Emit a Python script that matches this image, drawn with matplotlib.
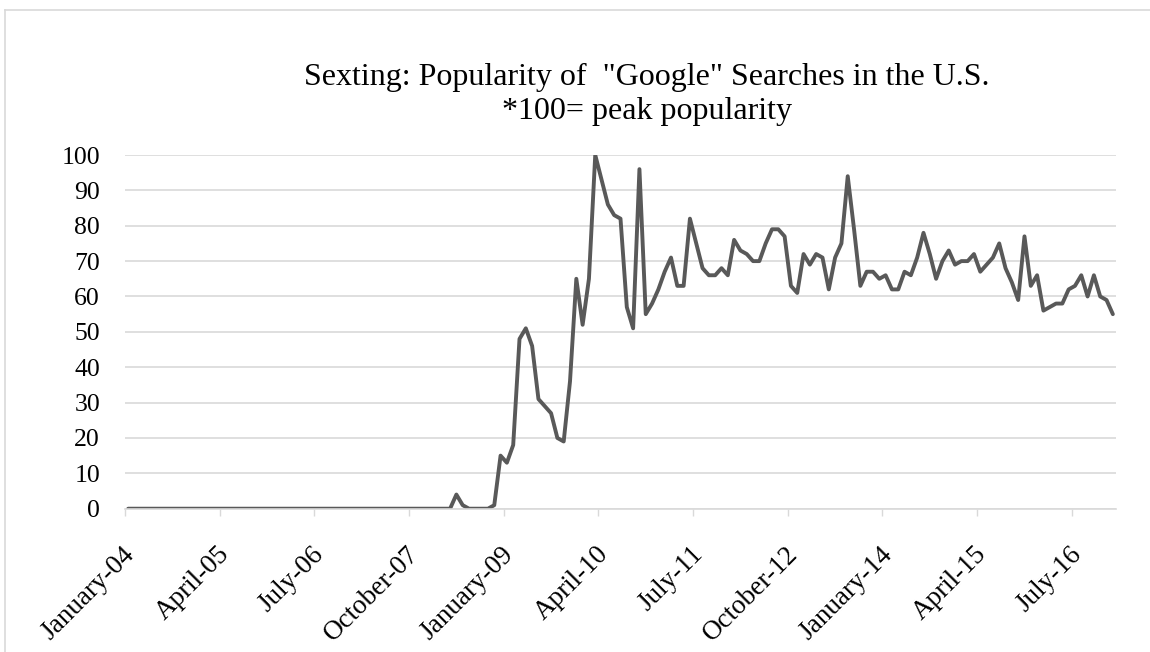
import matplotlib.pyplot as plt
from matplotlib.lines import Line2D
from matplotlib.transforms import ScaledTranslation

# monthly search popularity, Jan 2004 - Jan 2017
popularity = [
    0, 0, 0, 0, 0, 0, 0, 0, 0, 0, 0, 0,
    0, 0, 0, 0, 0, 0, 0, 0, 0, 0, 0, 0,
    0, 0, 0, 0, 0, 0, 0, 0, 0, 0, 0, 0,
    0, 0, 0, 0, 0, 0, 0, 0, 0, 0, 0, 0,
    0, 0, 0, 0, 4, 1, 0, 0, 0, 0, 1, 15,
    13, 18, 48, 51, 46, 31, 29, 27, 20, 19, 36, 65,
    52, 65, 100, 93, 86, 83, 82, 57, 51, 96, 55, 58,
    62, 67, 71, 63, 63, 82, 75, 68, 66, 66, 68, 66,
    76, 73, 72, 70, 70, 75, 79, 79, 77, 63, 61, 72,
    69, 72, 71, 62, 71, 75, 94, 79, 63, 67, 67, 65,
    66, 62, 62, 67, 66, 71, 78, 72, 65, 70, 73, 69,
    70, 70, 72, 67, 69, 71, 75, 68, 64, 59, 77, 63,
    66, 56, 57, 58, 58, 62, 63, 66, 60, 66, 60, 59,
    55,
]

tick_labels = ['January-04', 'April-05', 'July-06', 'October-07', 'January-09',
               'April-10', 'July-11', 'October-12', 'January-14', 'April-15',
               'July-16']
tick_step = 15  # months between labels

y_ticks = [0, 10, 20, 30, 40, 50, 60, 70, 80, 90, 100]

plt.rcParams['font.family'] = ['Liberation Serif', 'DejaVu Serif']

fig = plt.figure(figsize=(11.5, 6.52), dpi=100)
ax = fig.add_axes([125 / 1150, 1 - 508.7 / 652, (1116 - 125) / 1150, (508.7 - 155) / 652])

X = range(len(popularity))
ax.plot(X, popularity, '-', color='#595959', linewidth=2.8, solid_joinstyle='round',
        solid_capstyle='round')

# month axis: points sit between the tick marks
ax.set_xlim(-0.5, len(popularity) - 0.5)
ax.set_xticks([i * tick_step - 0.5 for i in range(len(tick_labels))])
ax.set_xticklabels(tick_labels, rotation=45, ha='right', va='center',
                   rotation_mode='anchor', fontsize=19.5)
ax.tick_params(axis='x', length=5, width=1, color='#d9d9d9', pad=15)
shift = ScaledTranslation(6 / 100, -14 / 100, fig.dpi_scale_trans)
for lbl in ax.get_xticklabels():
    lbl.set_transform(lbl.get_transform() + shift)

ax.set_ylim(0, 100)
ax.set_yticks(y_ticks)
ax.tick_params(axis='y', length=0, pad=18, labelsize=18.5)

ax.grid(axis='y', color='#d9d9d9', linewidth=1.2)
ax.set_axisbelow(True)
for side in ['top', 'right', 'left']:
    ax.spines[side].set_visible(False)
ax.spines['bottom'].set_color('#d9d9d9')
ax.spines['bottom'].set_linewidth(1.2)

fig.text(647 / 1150, 1 - 77 / 652, 'Sexting: Popularity of  "Google" Searches in the U.S.',
         ha='center', va='center', fontsize=23)
fig.text(647 / 1150, 1 - 112 / 652, '*100= peak popularity',
         ha='center', va='center', fontsize=23)

# chart frame
fig.add_artist(Line2D([5 / 1150, 5 / 1150], [0, 1 - 10 / 652], color='#d9d9d9', linewidth=1.2))
fig.add_artist(Line2D([5 / 1150, 1], [1 - 10 / 652, 1 - 10 / 652], color='#d9d9d9', linewidth=1.2))

fig.savefig('out.png', dpi=100)
